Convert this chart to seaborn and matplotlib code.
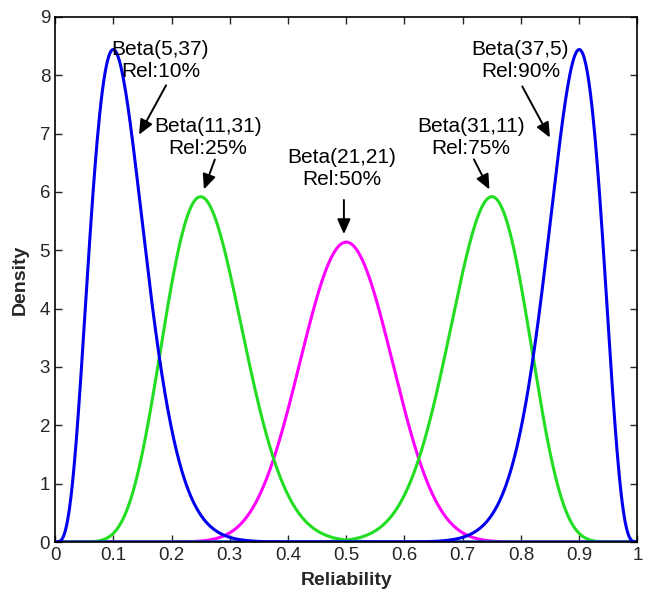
import math
import numpy as np
import pandas as pd
import matplotlib
matplotlib.use("Agg")
import matplotlib.pyplot as plt
import seaborn as sns

# Data: Beta distribution parameters shown in the chart labels
alphas = [21, 11, 31, 5, 37]
betas = [21, 31, 11, 37, 5]
rel_labels = ["50%", "25%", "75%", "10%", "90%"]
colors = ["#ff00ff", "#22dd22", "#22dd22", "#0000ee", "#0000ee"]

x_ticks = [0, 0.1, 0.2, 0.3, 0.4, 0.5, 0.6, 0.7, 0.8, 0.9, 1]
x_tick_labels = ["0", "0.1", "0.2", "0.3", "0.4", "0.5", "0.6", "0.7", "0.8", "0.9", "1"]
y_ticks = [0, 1, 2, 3, 4, 5, 6, 7, 8, 9]

# annotation text positions and arrow heads (data coordinates)
text_x = [0.492, 0.262, 0.714, 0.181, 0.799]
text_y = [6.41, 6.93, 6.93, 8.26, 8.26]
head_x = [0.496, 0.254, 0.748, 0.142, 0.852]
head_y = [5.23, 6.00, 6.00, 6.94, 6.89]
tail_x = [0.496, 0.276, 0.717, 0.193, 0.800]
tail_y = [5.91, 6.60, 6.60, 7.87, 7.85]

xs = np.linspace(0, 1, 801)


def beta_pdf(x, a, b):
    lb = math.lgamma(a) + math.lgamma(b) - math.lgamma(a + b)
    out = np.zeros_like(x)
    m = (x > 0) & (x < 1)
    out[m] = np.exp((a - 1) * np.log(x[m]) + (b - 1) * np.log(1 - x[m]) - lb)
    return out


rows = []
for i, (a, b) in enumerate(zip(alphas, betas)):
    name = f"Beta({a},{b})"
    for xv, yv in zip(xs, beta_pdf(xs, a, b)):
        rows.append((name, xv, yv))
df = pd.DataFrame(rows, columns=["dist", "Reliability", "Density"])

sns.set_style("ticks")
plt.rcParams["font.family"] = ["Liberation Sans", "DejaVu Sans"]

fig = plt.figure(figsize=(6.45, 5.96), dpi=100)
ax = fig.add_axes([0.0853, 0.0906, 0.903, 0.881])

names = [f"Beta({a},{b})" for a, b in zip(alphas, betas)]
palette = dict(zip(names, colors))
sns.lineplot(data=df, x="Reliability", y="Density", hue="dist", hue_order=names,
             palette=palette, linewidth=2.2, legend=False, ax=ax, sort=False)

for i, (a, b) in enumerate(zip(alphas, betas)):
    ax.annotate("", xy=(head_x[i], head_y[i]), xytext=(tail_x[i], tail_y[i]),
                arrowprops=dict(arrowstyle="-|>,head_width=0.4,head_length=0.9",
                                color="black", lw=1.4))
    ax.text(text_x[i], text_y[i], f"Beta({a},{b})\nRel:{rel_labels[i]}",
            ha="center", va="center", fontsize=15, linespacing=1.2, color="black")

ax.set_xlim(0, 1)
ax.set_ylim(0, 9)
ax.set_xticks(x_ticks)
ax.set_xticklabels(x_tick_labels)
ax.set_yticks(y_ticks)
ax.tick_params(direction="in", top=True, right=True, labelsize=13.5, length=5, width=1)
for s in ax.spines.values():
    s.set_linewidth(1.2)
    s.set_color("black")
ax.set_xlabel("Reliability", fontsize=14, fontweight="bold", labelpad=6)
ax.set_ylabel("Density", fontsize=14, fontweight="bold", labelpad=8)

fig.savefig("out.png", dpi=100)
